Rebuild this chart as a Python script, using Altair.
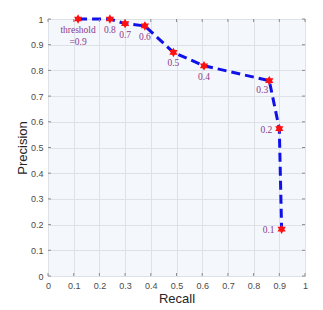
import altair as alt
import pandas as pd

thresholds = ["threshold\n=0.9", "0.8", "0.7", "0.6", "0.5", "0.4", "0.3", "0.2", "0.1"]
recall = [0.117, 0.241, 0.300, 0.377, 0.488, 0.607, 0.861, 0.900, 0.909]
precision = [1.000, 1.000, 0.982, 0.973, 0.870, 0.818, 0.760, 0.573, 0.182]
tick_vals = [0, 0.1, 0.2, 0.3, 0.4, 0.5, 0.6, 0.7, 0.8, 0.9, 1]

group_below = ["threshold\n=0.9", "0.8", "0.7", "0.6", "0.5", "0.4"]
group_diag = ["0.3"]
group_left = ["0.2", "0.1"]

df = pd.DataFrame({"label": thresholds, "recall": recall, "precision": precision,
                   "order": list(range(len(thresholds)))})
ticks_df = pd.DataFrame({"v": tick_vals})

hexagram = ("M0,-1L0.2887,-0.5L0.866,-0.5L0.577,0L0.866,0.5L0.2887,0.5L0,1"
            "L-0.2887,0.5L-0.866,0.5L-0.577,0L-0.866,-0.5L-0.2887,-0.5Z")

xs = alt.Scale(domain=[0, 1], nice=False)
ys = alt.Scale(domain=[0, 1], nice=False)

x_axis = alt.Axis(values=tick_vals, format="~g", title="Recall", grid=True,
                  ticks=False, labelPadding=5, labelOverlap=False, labelFlush=False,
                  tickCount=11)
y_axis = alt.Axis(values=tick_vals, format="~g", title="Precision", grid=True,
                  ticks=False, labelPadding=5, labelOverlap=False, labelFlush=False,
                  tickCount=11)

def X(f):
    return alt.X(f, scale=xs, axis=x_axis)

def Y(f):
    return alt.Y(f, scale=ys, axis=y_axis)

base = alt.Chart(df)

line = base.mark_line(color="#1010e8", strokeWidth=3, strokeDash=[9, 5]).encode(
    x=X("recall:Q"), y=Y("precision:Q"), order="order:Q",
)

points = base.mark_point(shape=hexagram, filled=True, color="#ff1010", size=90, opacity=1).encode(
    x=X("recall:Q"), y=Y("precision:Q"),
)

txt_style = dict(font="Liberation Serif", fontSize=9.5, color="#8b3a8b", lineBreak="\n")

def enc(ch):
    return ch.encode(x=X("recall:Q"), y=Y("precision:Q"), text="label:N")

lab_below = enc(base.transform_filter(
    alt.FieldOneOfPredicate(field="label", oneOf=group_below)
).mark_text(baseline="top", align="center", dy=6, **txt_style))

lab_diag = enc(base.transform_filter(
    alt.FieldOneOfPredicate(field="label", oneOf=group_diag)
).mark_text(baseline="top", align="center", dx=-7, dy=4, **txt_style))

lab_left = enc(base.transform_filter(
    alt.FieldOneOfPredicate(field="label", oneOf=group_left)
).mark_text(baseline="middle", align="right", dx=-7, dy=1, **txt_style))

tc = "#8c8c8c"
tick_b = alt.Chart(ticks_df).mark_rule(color=tc, strokeWidth=1).encode(
    x=X("v:Q"), y=alt.value(257), y2=alt.value(254))
tick_t = alt.Chart(ticks_df).mark_rule(color=tc, strokeWidth=1).encode(
    x=X("v:Q"), y=alt.value(0), y2=alt.value(3))
tick_l = alt.Chart(ticks_df).mark_rule(color=tc, strokeWidth=1).encode(
    y=Y("v:Q"), x=alt.value(0), x2=alt.value(3))
tick_r = alt.Chart(ticks_df).mark_rule(color=tc, strokeWidth=1).encode(
    y=Y("v:Q"), x=alt.value(257), x2=alt.value(254))

chart = alt.layer(line, tick_b, tick_t, tick_l, tick_r, points, lab_below, lab_diag, lab_left).properties(
    width=257, height=257,
    padding={"left": 40, "top": 11, "right": 10, "bottom": 34},
    autosize="none",
    background="white",
).configure_view(
    fill="#f4f7fc", stroke="#8c8c8c", strokeWidth=1,
).configure_axis(
    domain=False,
    gridColor="#dde2e9", gridWidth=1,
    labelFont="Liberation Sans", labelFontSize=9, labelColor="#4a4a4a",
    titleFont="Liberation Sans", titleFontSize=13, titleFontWeight="normal", titleColor="#262626",
).configure_axisX(titlePadding=2).configure_axisY(titlePadding=1)

chart.save("out.html", embed_options={"renderer": "svg", "actions": False})
